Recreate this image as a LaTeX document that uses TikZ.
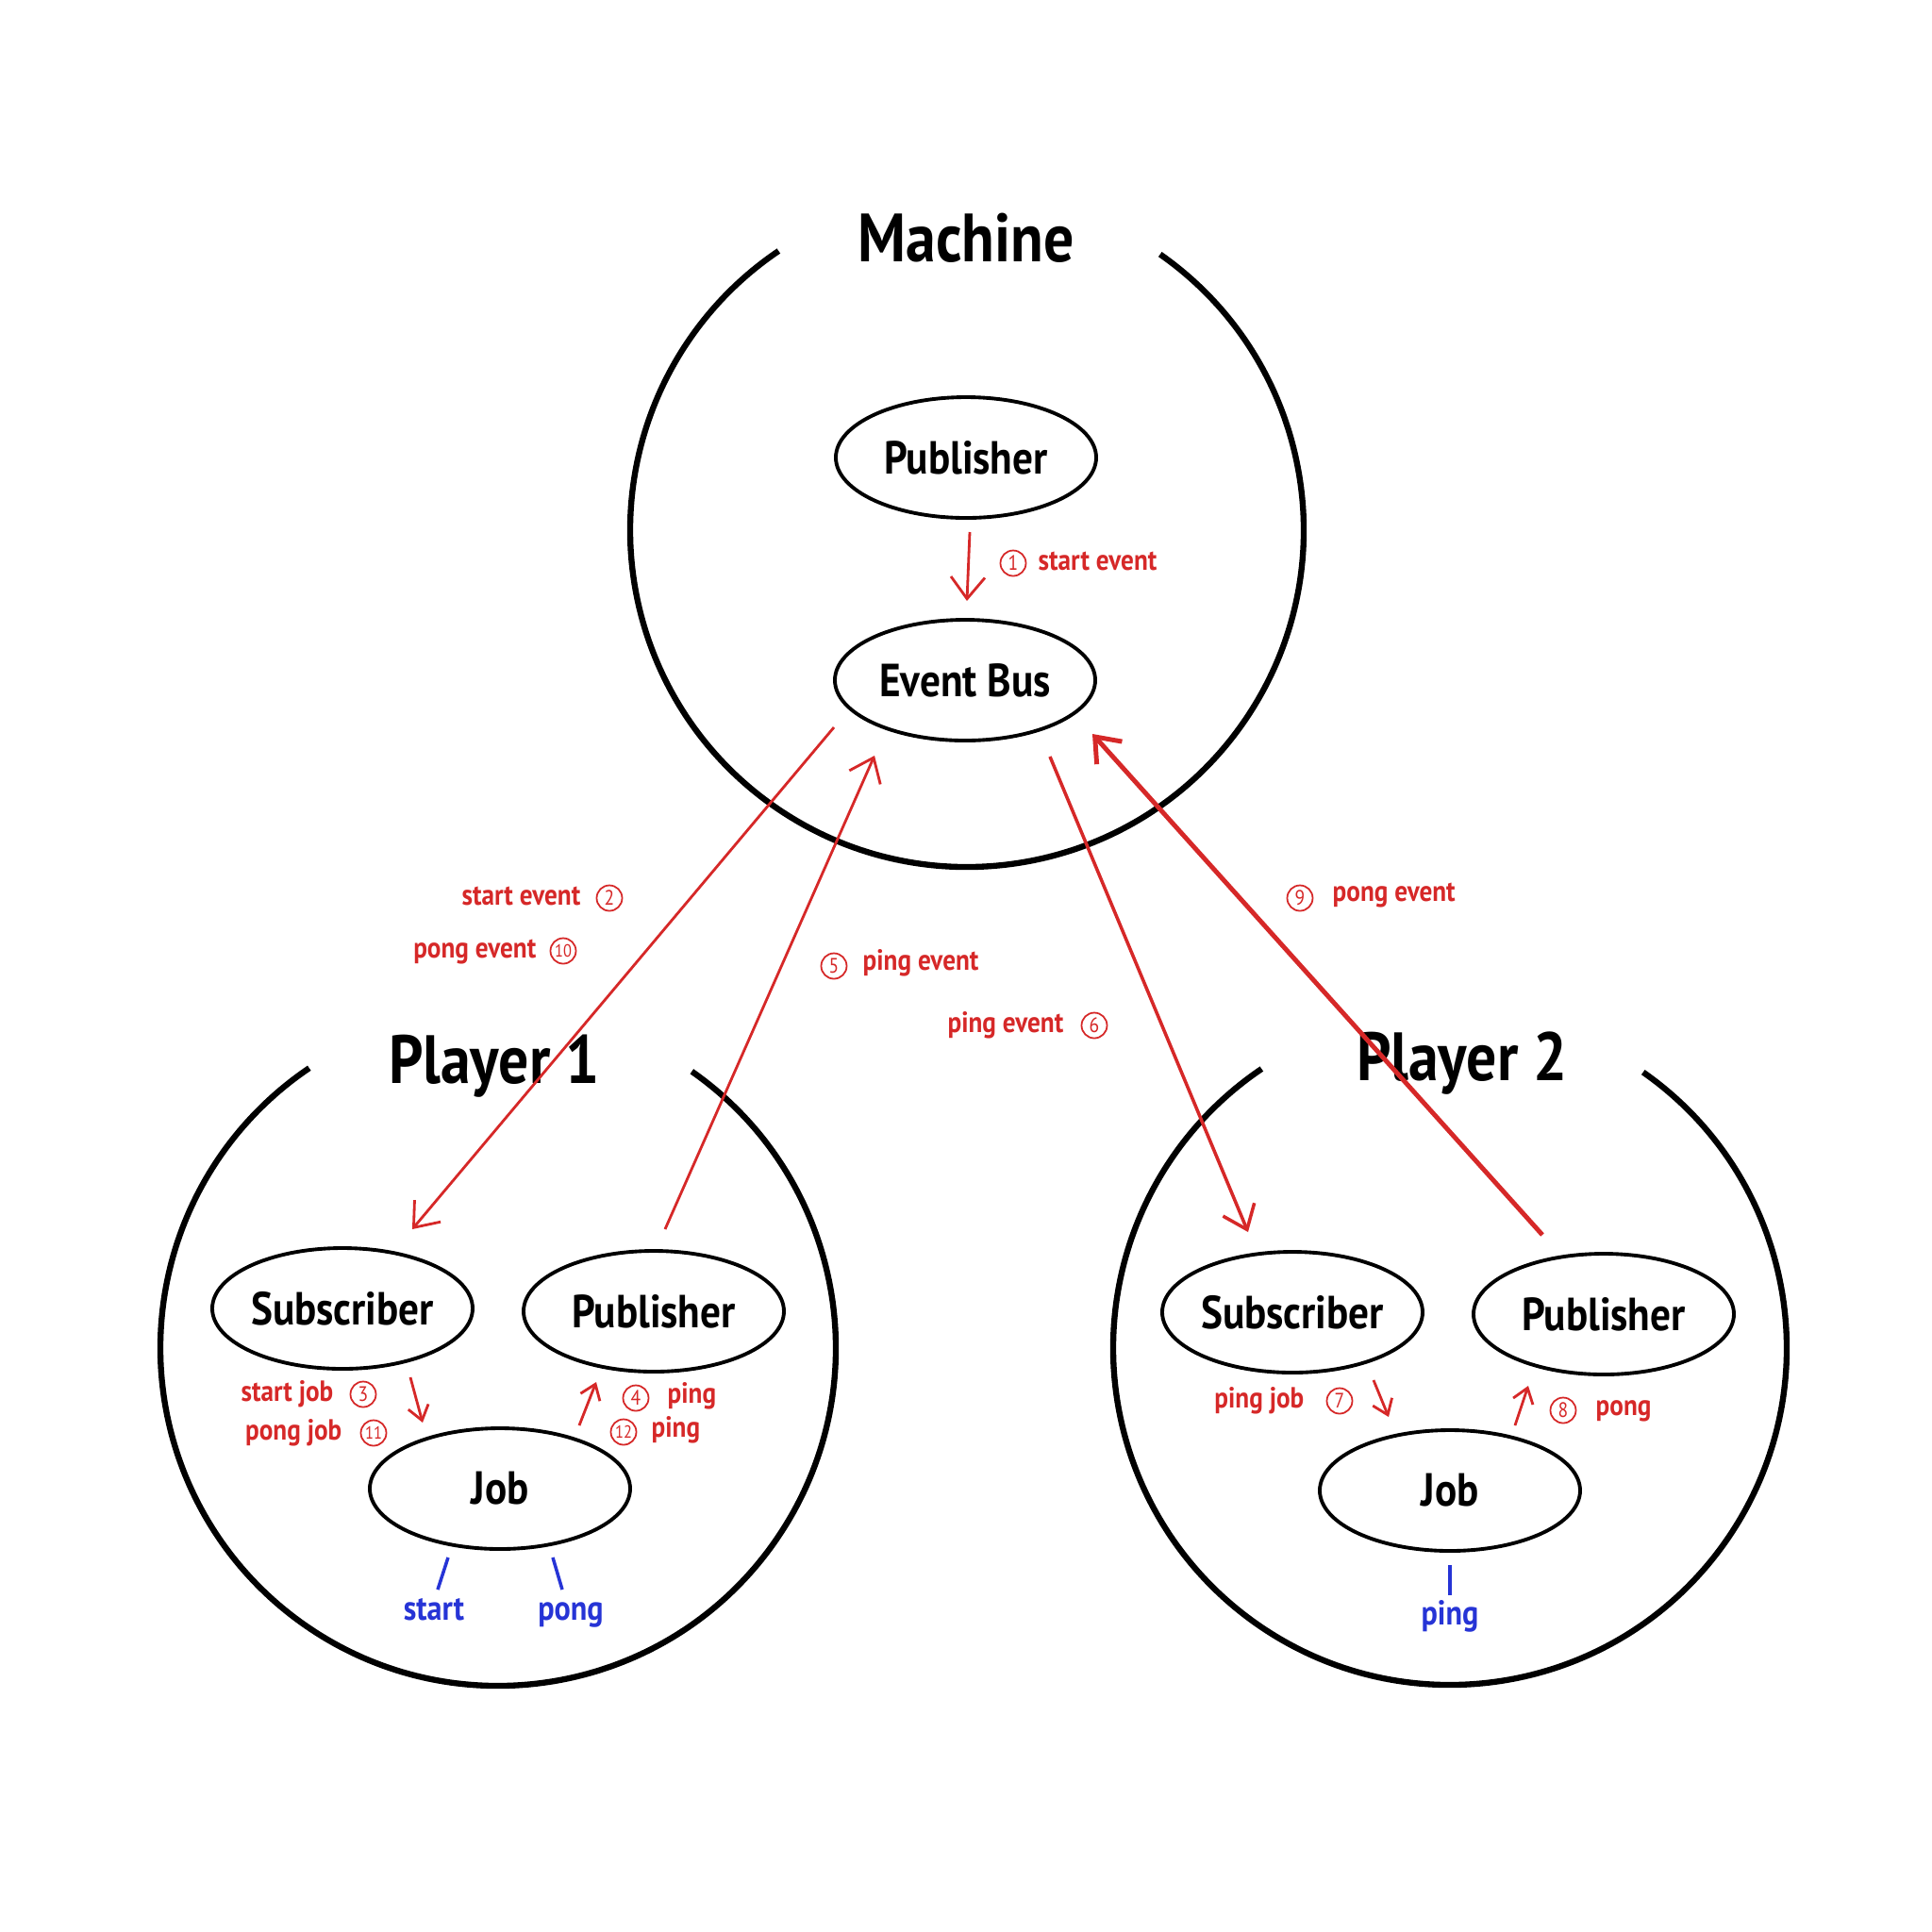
\documentclass[tikz,border=0pt]{standalone}
\usepackage{fontspec}
\usetikzlibrary{shapes.geometric,arrows.meta,calc}
\newfontfamily\ptsans[FakeStretch=0.88]{PT Sans}
\definecolor{myred}{RGB}{214,40,40}
\definecolor{myblue}{RGB}{38,52,214}
\newcommand\mytitlefont{\ptsans\bfseries\fontsize{20.6}{23}\selectfont}
\newcommand\myovalfont{\ptsans\bfseries\fontsize{14}{16}\selectfont}
\newcommand\mylblfont{\ptsans\bfseries\fontsize{8.8}{10}\selectfont}
\newcommand\mybluefont{\ptsans\bfseries\fontsize{10.4}{12}\selectfont}
\newcommand\mynumfont{\ptsans\fontsize{6.3}{7}\selectfont}
\newcommand\mysmallnumfont{\ptsans\fontsize{5.3}{6}\selectfont}
\tikzset{
  bigcirc/.style={line width=1.8pt, draw=black},
  oval/.style={ellipse, draw, line width=1.1pt, minimum width=2.76cm, minimum height=1.28cm, inner sep=0pt, font=\myovalfont},
  titletext/.style={font=\mytitlefont, inner sep=0pt, anchor=base},
  redarrow/.style={draw=myred, line width=0.8pt, -{Straight Barb[length=0.23cm, width=0.36cm]}},
  smallarrow/.style={draw=myred, line width=0.8pt, -{Straight Barb[length=0.15cm, width=0.22cm]}},
  lbl/.style={text=myred, font=\mylblfont, inner sep=0pt},
  num/.style={circle, draw=myred, line width=0.5pt, text=myred, inner sep=0pt, minimum size=0.27cm, font=\mynumfont},
  num2/.style={num, font=\mysmallnumfont},
  blueline/.style={draw=myblue, line width=1pt},
  bluelbl/.style={text=myblue, font=\mybluefont, inner sep=0pt, anchor=mid},
}
\begin{document}
\begin{tikzpicture}
\useasboundingbox (0,0) rectangle (20.48,-20.48);
\fill[white] (0,0) rectangle (20.48,-20.48);

% big circles
\coordinate (mc) at (10.25,-5.62);
\coordinate (c1) at (5.28,-14.29);
\coordinate (c2) at (15.37,-14.29);
\draw[bigcirc] ($(mc)+(55:3.57)$) arc[start angle=55, end angle=-236, radius=3.57];
\draw[bigcirc] ($(c1)+(55:3.58)$) arc[start angle=55, end angle=-236, radius=3.58];
\draw[bigcirc] ($(c2)+(55:3.57)$) arc[start angle=55, end angle=-236, radius=3.57];

% titles
\node[titletext] (tmachine) at (10.24,-2.77) {Machine};
\node[titletext] (tp1) at (5.24,-11.48) {Player 1};
\node[titletext] (tp2) at (15.50,-11.45) {Player 2};

% ovals
\node[oval] (mpub) at (10.24,-4.85) {Publisher};
\node[oval] (bus) at (10.23,-7.21) {Event Bus};
\node[oval] (s1) at (3.63,-13.87) {Subscriber};
\node[oval] (pb1) at (6.93,-13.90) {Publisher};
\node[oval] (j1) at (5.30,-15.78) {Job};
\node[oval] (s2) at (13.70,-13.91) {Subscriber};
\node[oval] (pb2) at (17.00,-13.93) {Publisher};
\node[oval] (j2) at (15.37,-15.80) {Job};

% main red arrows
\draw[redarrow] ($(mpub)+(0.04,-0.79)$) -- ($(bus)+(0.02,0.84)$);
\draw[redarrow] ($(bus)+(-1.39,-0.50)$) -- ($(s1)+(0.74,0.84)$);
\draw[redarrow] ($(pb1)+(0.12,0.87)$) -- ($(bus)+(-0.96,-0.80)$);
\draw[redarrow, line width=1pt] ($(bus)+(0.90,-0.81)$) -- ($(s2)+(-0.47,0.85)$);
\draw[redarrow, line width=1.4pt] ($(pb2)+(-0.65,0.84)$) -- ($(bus)+(1.35,-0.57)$);

% inner arrows
\draw[smallarrow] ($(s1)+(0.72,-0.73)$) -- ($(j1)+(-0.82,0.70)$);
\draw[smallarrow] ($(j1)+(0.84,0.67)$) -- ($(pb1)+(-0.61,-0.75)$);
\draw[smallarrow] ($(s2)+(0.86,-0.72)$) -- ($(j2)+(-0.65,0.78)$);
\draw[smallarrow] ($(j2)+(0.69,0.69)$) -- ($(pb2)+(-0.80,-0.76)$);

% red labels
\node[num] (n1) at (10.74,-5.97) {1};
\node[lbl, anchor=mid west] (l1) at (11.00,-5.97) {start event};
\node[lbl, anchor=mid east] (l2) at (6.16,-9.52) {start event};
\node[num] (n2) at (6.46,-9.52) {2};
\node[lbl, anchor=mid east] (l10) at (5.69,-10.08) {pong event};
\node[num2] (n10) at (5.97,-10.08) {10};
\node[num] (n5) at (8.84,-10.24) {5};
\node[lbl, anchor=mid west] (l5) at (9.14,-10.21) {ping event};
\node[lbl, anchor=mid east] (l6) at (11.28,-10.87) {ping event};
\node[num] (n6) at (11.60,-10.87) {6};
\node[num] (n9) at (13.78,-9.52) {9};
\node[lbl, anchor=mid west] (l9) at (14.12,-9.48) {pong event};
\node[lbl, anchor=mid east] (l3) at (3.54,-14.78) {start job};
\node[num] (n3) at (3.85,-14.78) {3};
\node[lbl, anchor=mid east] (l11) at (3.63,-15.19) {pong job};
\node[num2] (n11) at (3.96,-15.19) {11};
\node[num] (n4) at (6.74,-14.82) {4};
\node[lbl, anchor=mid west] (l4) at (7.07,-14.80) {ping};
\node[num2] (n12) at (6.61,-15.18) {12};
\node[lbl, anchor=mid west] (l12) at (6.90,-15.16) {ping};
\node[lbl, anchor=mid east] (l7) at (13.83,-14.85) {ping job};
\node[num] (n7) at (14.20,-14.85) {7};
\node[num] (n8) at (16.57,-14.95) {8};
\node[lbl, anchor=mid west] (l8) at (16.91,-14.93) {pong};

% blue
\node[bluelbl] (bstart) at (4.60,-17.10) {start};
\node[bluelbl] (bpong) at (6.05,-17.10) {pong};
\node[bluelbl] (bping) at (15.37,-17.15) {ping};
\draw[blueline] ($(j1)+(-0.55,-0.73)$) -- ($(j1)+(-0.66,-1.07)$);
\draw[blueline] ($(j1)+(0.56,-0.73)$) -- ($(j1)+(0.66,-1.07)$);
\draw[blueline] ($(j2)+(0,-0.79)$) -- ($(j2)+(0,-1.11)$);
\end{tikzpicture}
\end{document}
